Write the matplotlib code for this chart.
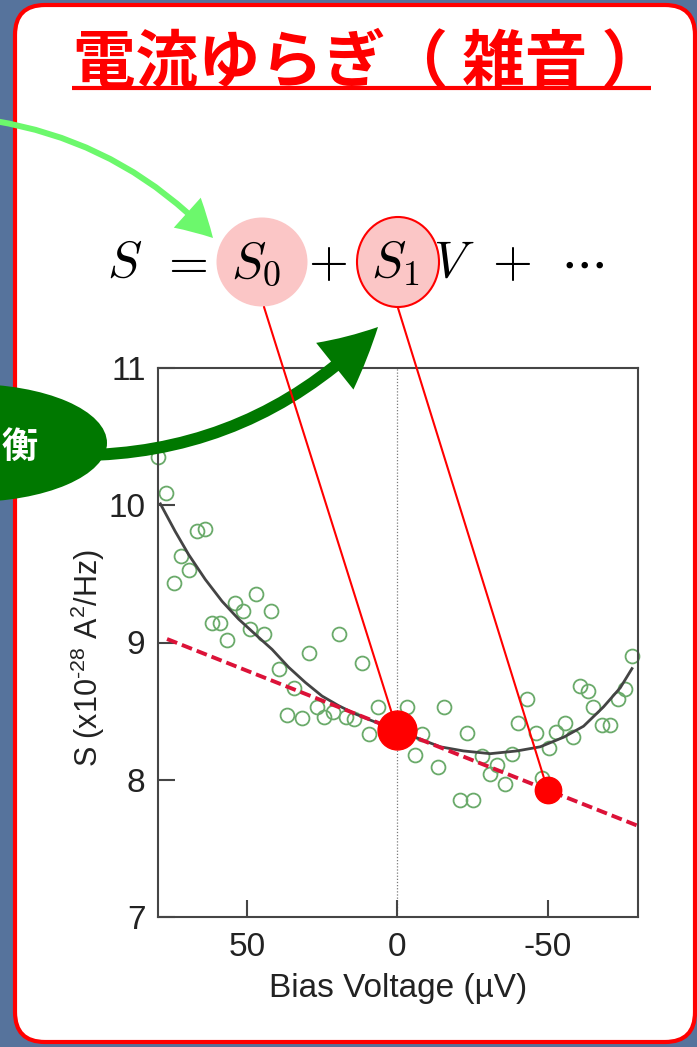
import matplotlib
matplotlib.use("Agg")
import matplotlib.pyplot as plt
from matplotlib.patches import FancyBboxPatch, Ellipse, FancyArrowPatch, ConnectionPatch

plt.rcParams["axes.unicode_minus"] = False
plt.rcParams["mathtext.rm"] = "Liberation Sans"
plt.rcParams["mathtext.it"] = "Liberation Sans:italic"
plt.rcParams["mathtext.bf"] = "Liberation Sans:bold"

# ---- measured current-noise data ----
bias_v = [79.4, 76.7, 74.3, 71.8, 69.1, 66.4, 64.0, 61.5, 58.8, 56.6, 54.0, 51.4,
          49.0, 46.8, 44.2, 41.9, 39.4, 36.7, 34.4, 31.7, 29.2, 26.7, 24.2, 21.3,
          19.3, 17.1, 14.3, 11.8, 9.3, 6.5, -3.2, -6.0, -8.3, -13.4, -15.6, -21.0,
          -23.1, -25.3, -28.2, -30.7, -33.3, -35.7, -38.0, -40.0, -43.1, -46.0,
          -48.1, -50.4, -52.8, -55.7, -58.5, -60.8, -63.5, -65.2, -68.1, -70.8,
          -73.2, -75.6, -78.0]
noise_s = [10.35, 10.09, 9.43, 9.63, 9.53, 9.81, 9.83, 9.14, 9.14, 9.02, 9.29, 9.23,
           9.10, 9.35, 9.06, 9.23, 8.81, 8.47, 8.67, 8.45, 8.92, 8.53, 8.46, 8.49,
           9.06, 8.46, 8.44, 8.85, 8.33, 8.53, 8.53, 8.18, 8.33, 8.09, 8.53, 7.85,
           8.34, 7.85, 8.17, 8.04, 8.11, 7.97, 8.19, 8.41, 8.59, 8.34,
           8.01, 8.23, 8.35, 8.41, 8.31, 8.68, 8.65, 8.53, 8.40, 8.40,
           8.59, 8.66, 8.90]

# ---- fitted curve ----
fit_v = [78.7, 73.8, 69.3, 63.8, 58.2, 52.7, 47.2, 41.6, 36.1, 30.6, 25.0, 19.5,
         14.0, 8.4, 0.0, -6.0, -14.3, -22.0, -30.9, -39.8, -47.5, -55.3, -61.9,
         -68.5, -74.1, -78.0]
fit_s = [10.01, 9.81, 9.64, 9.46, 9.30, 9.17, 9.06, 8.95, 8.82, 8.71, 8.61, 8.54,
         8.48, 8.43, 8.36, 8.31, 8.24, 8.21, 8.19, 8.21, 8.24, 8.31, 8.39,
         8.53, 8.67, 8.81]

# ---- linear part S = S0 + S1 V ----
S0 = 8.36
S1 = 0.0087
lin_v = [76.5, -80.0]
lin_s = [S0 + S1 * v for v in lin_v]
marked_v = [0.0, -50.0]          # points highlighted on the linear term

x_ticks = [50, 0, -50]
y_ticks = [7, 8, 9, 10, 11]

# formula pieces: (mathtext, centre x in slide pixels)
formula = [(r"$S$", 125), (r"$=$", 183), (r"$S_0$", 256), (r"$+$", 327),
           (r"$S_1$", 395), (r"$V$", 454), (r"$+$", 512), (r"$\cdots$", 582)]

W, H = 697, 1047
fig = plt.figure(figsize=(W / 100, H / 100), dpi=100)
fig.patch.set_facecolor("#56739c")

# ---- slide layer (pixel coordinates) ----
bg = fig.add_axes([0, 0, 1, 1], zorder=0)
bg.set_xlim(0, W)
bg.set_ylim(H, 0)
bg.axis("off")
bg.add_patch(FancyBboxPatch((15, 5), 680, 1037,
                            boxstyle="round,pad=0,rounding_size=30",
                            fc="white", ec="#ff0000", lw=3.0, zorder=1))
bg.text(73, 63, "電流ゆらぎ（ 雑音 ）", color="#ff0000", fontsize=45,
        fontweight="bold", family=["Noto Sans CJK JP", "DejaVu Sans"],
        ha="left", va="center", zorder=3)
bg.plot([72, 651], [88, 88], color="#ff0000", lw=3.0, solid_capstyle="butt", zorder=3)

bg.add_patch(Ellipse((262, 262), 91, 89, fc="#fbc6c6", ec="none", zorder=2))
bg.add_patch(Ellipse((398, 262), 82, 90, fc="#fbc6c6", ec="#ff0000", lw=1.5, zorder=2))
for s, cx in formula:
    bg.text(cx, 277, s, fontsize=37, math_fontfamily="cm",
            ha="center", va="baseline", color="black", zorder=3)

# ---- chart ----
ax = fig.add_axes([158 / W, 1 - 917 / H, 480 / W, 549 / H], zorder=1)
ax.set_facecolor("none")
ax.axvline(0, color="#7a7a7a", lw=0.9, ls=(0, (1, 1.5)), zorder=1)
ax.plot(bias_v, noise_s, ls="none", marker="o", ms=10, mfc="none",
        mec="#6aaa6a", mew=1.3, clip_on=False, zorder=2)
ax.plot(fit_v, fit_s, color="#444444", lw=2.0, zorder=3)
ax.plot(lin_v, lin_s, color="#dc1238", lw=2.8, dashes=(2.8, 1.3), zorder=3)

ax.set_xlim(79.5, -80)
ax.set_ylim(7, 11)
ax.set_xticks(x_ticks)
ax.set_yticks(y_ticks)
for s in ax.spines.values():
    s.set_color("#454545")
    s.set_linewidth(1.5)
ax.tick_params(direction="in", length=12, width=1.5, color="#454545",
               labelsize=24, labelcolor="#222222")
ax.tick_params(axis="y", pad=9)
ax.tick_params(axis="x", pad=11)
for lab in ax.get_xticklabels() + ax.get_yticklabels():
    lab.set_family("Liberation Sans")
ax.set_xlabel("Bias Voltage (µV)", fontsize=24, family="Liberation Sans",
              color="#222222", labelpad=7)
ax.set_ylabel(r"S (x10$^{\text{-28}}$ A$^{2}$/Hz)", fontsize=22,
              family="Liberation Sans", color="#222222", math_fontfamily="custom")
ax.yaxis.set_label_coords(-0.106, 0.472)

# ---- annotation overlay (drawn in slide pixel coordinates) ----
T = bg.transData
green_oval = Ellipse((-30, 443), 274, 118, fc="#007800", ec="none",
                     transform=T, clip_on=False, zorder=4)
ax.add_artist(green_oval)
ax.text(2, 447, "衡", color="white", fontsize=26, fontweight="bold",
        family=["Noto Sans CJK JP", "DejaVu Sans"], ha="left", va="center",
        transform=T, clip_on=False, zorder=5)

dark_arrow = FancyArrowPatch((60, 455), (378, 327), transform=T,
                             connectionstyle="arc3,rad=0.22",
                             arrowstyle="simple,head_length=42,head_width=43,tail_width=8.6",
                             mutation_scale=1, shrinkA=0, shrinkB=0,
                             fc="#007800", ec="none", lw=0, clip_on=False, zorder=4)
ax.add_artist(dark_arrow)
light_arrow = FancyArrowPatch((-5, 121), (213, 238), transform=T,
                              connectionstyle="arc3,rad=-0.17",
                              arrowstyle="simple,head_length=26,head_width=29,tail_width=4.3",
                              mutation_scale=1, shrinkA=0, shrinkB=0,
                              fc="#6cf86c", ec="none", lw=0, clip_on=False, zorder=4)
ax.add_artist(light_arrow)

starts = [(264, 307), (398, 308)]
for (px, py), v in zip(starts, marked_v):
    con = ConnectionPatch(xyA=(px, py), coordsA=T, xyB=(v, S0 + S1 * v),
                          coordsB=ax.transData, color="#ff0000", lw=1.5, zorder=6)
    con.set_clip_on(False)
    ax.add_artist(con)

ax.plot([marked_v[0]], [S0 + S1 * marked_v[0]], "o", color="#ff0000", ms=28,
        clip_on=False, zorder=7)
ax.plot([marked_v[1]], [S0 + S1 * marked_v[1]], "o", color="#ff0000", ms=19,
        clip_on=False, zorder=7)

fig.savefig("out.png", dpi=100, facecolor=fig.get_facecolor())
